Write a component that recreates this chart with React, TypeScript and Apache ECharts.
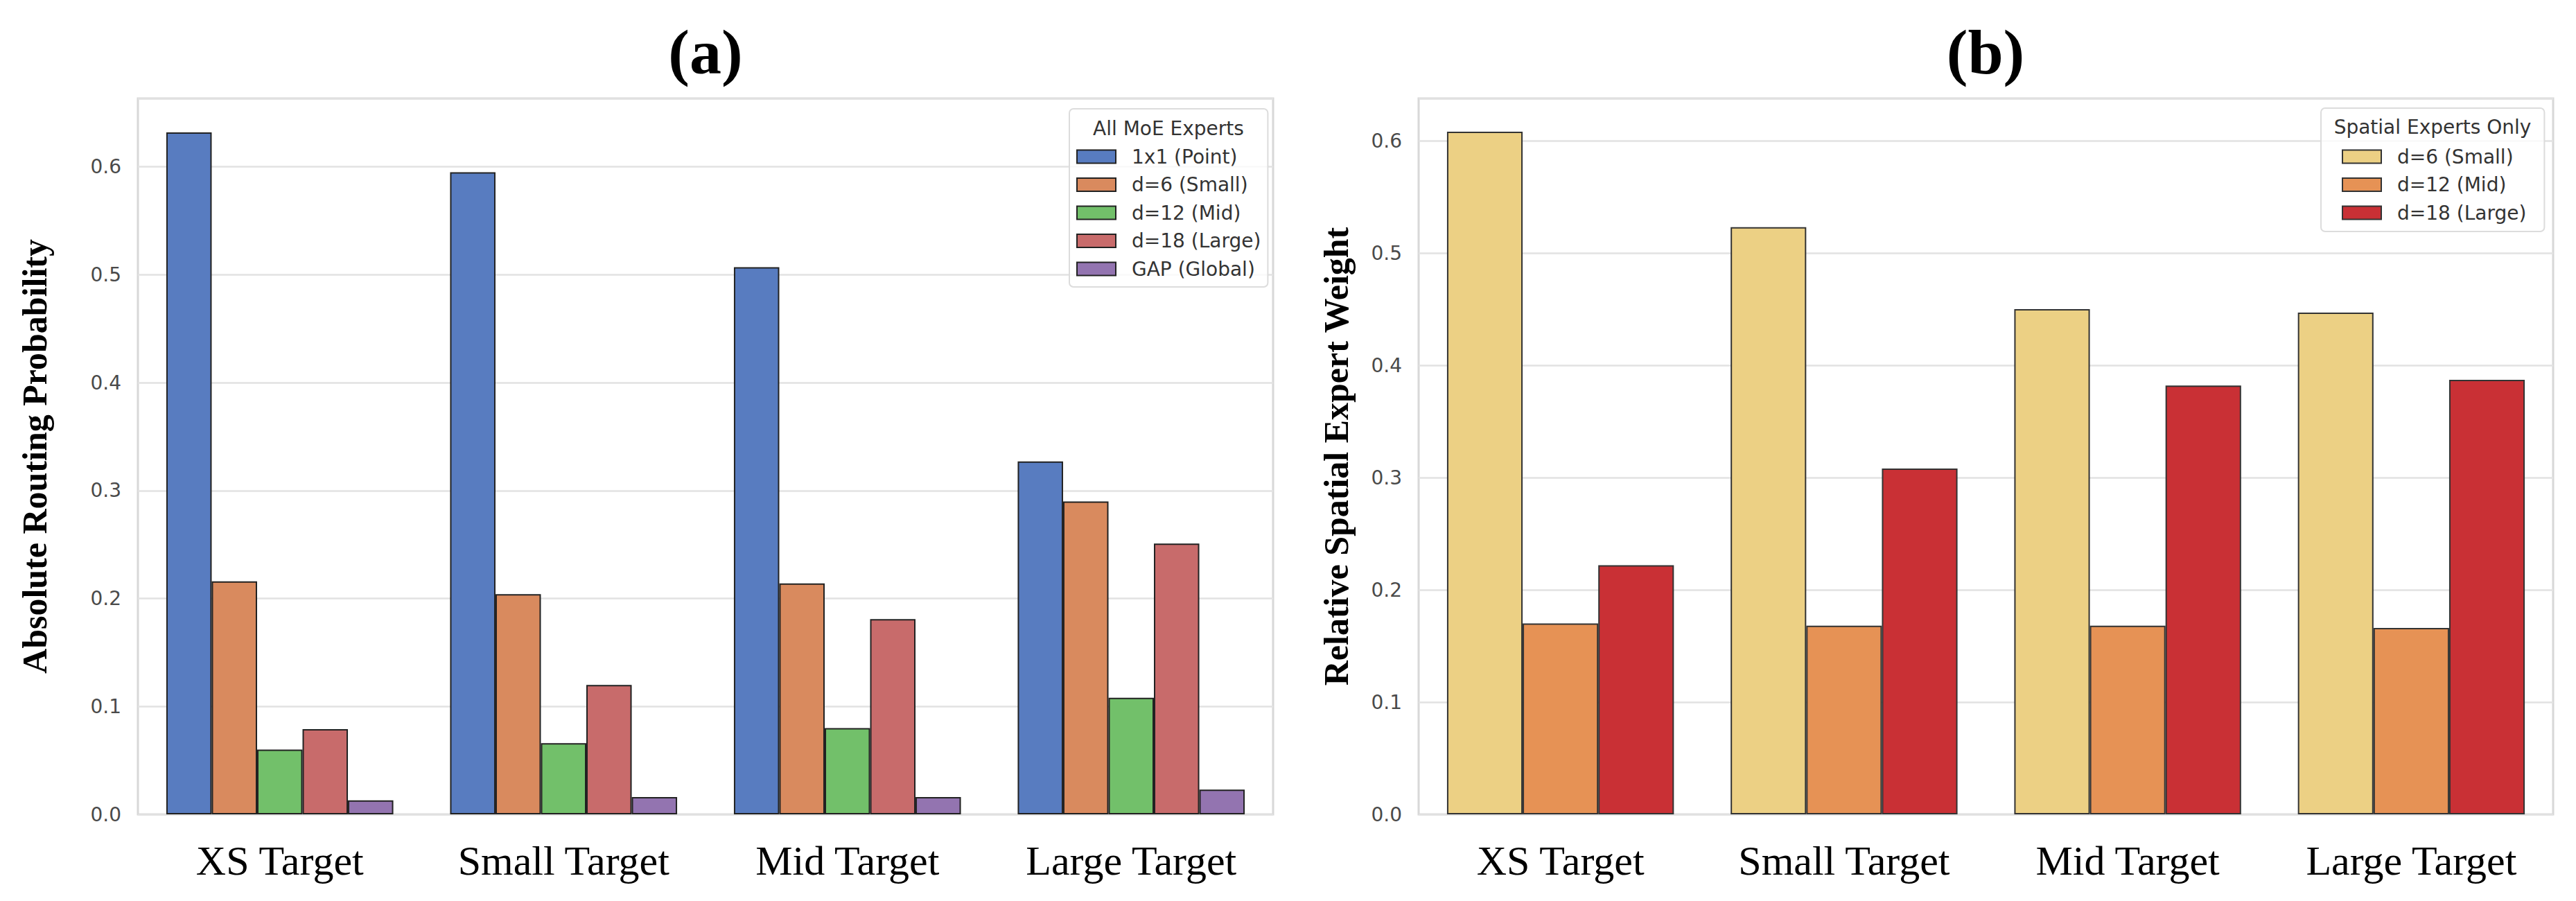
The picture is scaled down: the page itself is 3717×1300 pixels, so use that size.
import * as echarts from "echarts"
import { useEffect, useRef } from "react"

const categories = ["XS Target", "Small Target", "Mid Target", "Large Target"]

// panel (a): all MoE experts
const allExpertNames = [
  "1x1 (Point)",
  "d=6 (Small)",
  "d=12 (Mid)",
  "d=18 (Large)",
  "GAP (Global)",
]
const pointValues = [0.632, 0.595, 0.507, 0.327]
const smallValues = [0.216, 0.204, 0.214, 0.29]
const midValues = [0.06, 0.066, 0.08, 0.108]
const largeValues = [0.079, 0.12, 0.181, 0.251]
const globalValues = [0.013, 0.016, 0.016, 0.023]
const allExpertColors = ["#587cc0", "#d98a5e", "#72c06a", "#c86b6b", "#9374b0"]

// panel (b): spatial experts only
const spatialNames = ["d=6 (Small)", "d=12 (Mid)", "d=18 (Large)"]
const spatialSmall = [0.608, 0.523, 0.45, 0.447]
const spatialMid = [0.17, 0.168, 0.168, 0.166]
const spatialLarge = [0.222, 0.308, 0.382, 0.387]
const spatialColors = ["#ecd084", "#e69255", "#c93035"]

const sans = "DejaVu Sans, Noto Sans, sans-serif"
const serif = "Liberation Serif, Times New Roman, serif"
const spine = "#d8d8d8"
const gridLine = "#e2e2e2"
const tickColor = "#4a4a4a"

function valueAxis(gridIndex: number, max: number, name: string, nameGap: number) {
  return {
    type: "value",
    gridIndex,
    min: 0,
    max,
    interval: 0.1,
    name,
    nameLocation: "middle",
    nameGap,
    nameTextStyle: {
      fontFamily: serif,
      fontWeight: "bold",
      fontSize: 50,
      color: "#000",
    },
    axisLine: { show: false },
    axisTick: { show: false },
    axisLabel: {
      color: tickColor,
      fontFamily: sans,
      fontSize: 28,
      margin: 24,
      showMaxLabel: false,
      formatter: (v: number) => v.toFixed(1),
    },
    splitLine: { lineStyle: { color: gridLine, width: 2.5 } },
  }
}

function categoryAxis(gridIndex: number) {
  return {
    type: "category",
    gridIndex,
    data: categories,
    axisLine: { show: false },
    axisTick: { show: false },
    axisLabel: {
      color: "#000",
      fontFamily: serif,
      fontSize: 60,
      lineHeight: 60,
      margin: 37,
    },
  }
}

function legendBox(left: number, top: number, padding: number[], data: unknown[]) {
  return {
    orient: "vertical",
    left,
    top,
    padding,
    data,
    icon: "rect",
    itemWidth: 56,
    itemHeight: 19,
    itemGap: 12.5,
    selectedMode: false,
    backgroundColor: "rgba(255,255,255,0.8)",
    borderColor: "#dcdcdc",
    borderWidth: 2,
    borderRadius: 6,
    textStyle: {
      color: "#333",
      fontFamily: sans,
      fontSize: 28,
      lineHeight: 28,
      padding: [0, 0, 0, 18],
    },
  }
}

function titleText(text: string, x: number, y: number, font: string, fill: string) {
  return {
    type: "text",
    x,
    y,
    z: 10,
    style: { text, font, fill, textAlign: "center", textVerticalAlign: "middle" },
  }
}

export default function App() {
  const node = useRef<HTMLDivElement>(null)

  useEffect(() => {
    if (!node.current) return
    document.body.style.margin = "0"
    const chart = echarts.init(node.current, undefined, { renderer: "svg" })

    const allValues = [pointValues, smallValues, midValues, largeValues, globalValues]
    const spatialValues = [spatialSmall, spatialMid, spatialLarge]

    chart.setOption({
      animation: false,
      backgroundColor: "#fff",
      grid: [
        {
          left: 199,
          top: 142,
          width: 1638,
          height: 1033,
          show: true,
          borderColor: spine,
          borderWidth: 3,
        },
        {
          left: 2047,
          top: 142,
          width: 1637,
          height: 1033,
          show: true,
          borderColor: spine,
          borderWidth: 3,
        },
      ],
      xAxis: [categoryAxis(0), categoryAxis(1)],
      yAxis: [
        valueAxis(0, 0.6634, "Absolute Routing Probability", 124),
        valueAxis(1, 0.6377, "Relative Spatial Expert Weight", 94),
      ],
      legend: [
        legendBox(1543, 157, [55, 10, 12, 10], allExpertNames),
        legendBox(
          3349,
          156,
          [56, 26, 13, 30],
          spatialNames.map((name, i) => ({
            name,
            itemStyle: {
              color: spatialColors[i],
              borderColor: "#333",
              borderWidth: 2,
            },
          }))
        ),
      ],
      graphic: [
        titleText("(a)", 1018, 75, `bold 92px ${serif}`, "#000"),
        titleText("(b)", 2865, 75, `bold 92px ${serif}`, "#000"),
        titleText("All MoE Experts", 1686, 185, `28px ${sans}`, "#333"),
        titleText("Spatial Experts Only", 3510, 183, `28px ${sans}`, "#333"),
      ],
      series: [
        ...allExpertNames.map((name, i) => ({
          name,
          type: "bar",
          xAxisIndex: 0,
          yAxisIndex: 0,
          data: allValues[i],
          barGap: "0%",
          barCategoryGap: "20%",
          itemStyle: {
            color: allExpertColors[i],
            borderColor: "#222",
            borderWidth: 2,
          },
          emphasis: { disabled: true },
        })),
        ...spatialNames.map((name, i) => ({
          name,
          type: "bar",
          xAxisIndex: 1,
          yAxisIndex: 1,
          data: spatialValues[i],
          barGap: "0%",
          barCategoryGap: "20%",
          itemStyle: {
            color: spatialColors[i],
            borderColor: "#333",
            borderWidth: 2,
          },
          emphasis: { disabled: true },
        })),
      ],
    })

    return () => {
      chart.dispose()
    }
  }, [])

  return <div ref={node} style={{ width: 3717, height: 1300 }} />
}
